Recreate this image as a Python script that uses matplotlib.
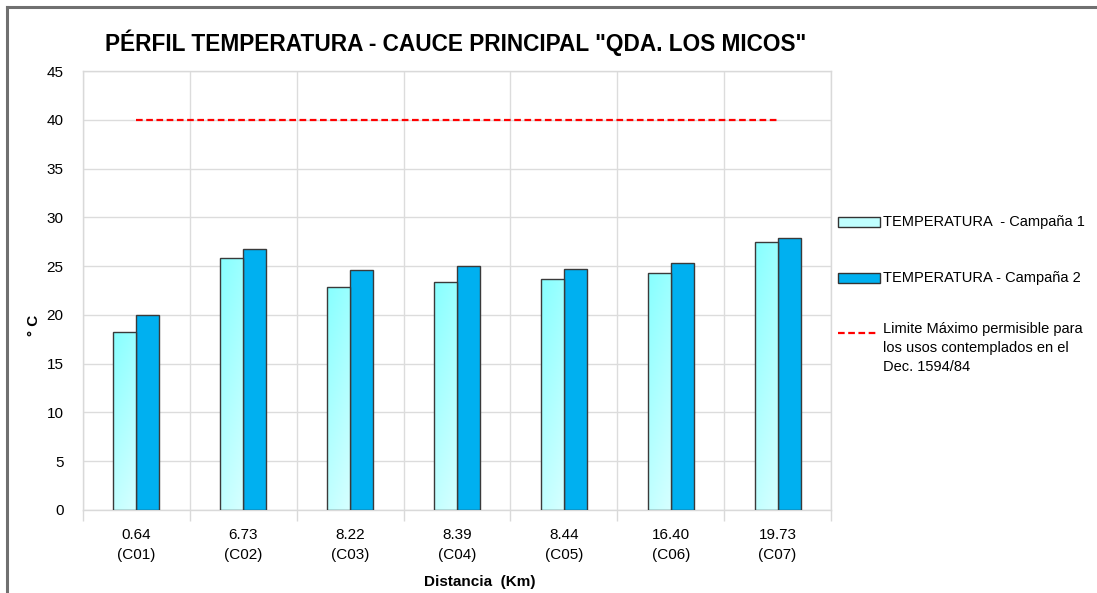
import numpy as np
import matplotlib
matplotlib.use("Agg")
import matplotlib.pyplot as plt
from matplotlib.patches import Rectangle
from matplotlib.lines import Line2D

plt.rcParams['font.family'] = ['Liberation Sans', 'DejaVu Sans']

# data
distancias = ["0.64", "6.73", "8.22", "8.39", "8.44", "16.40", "19.73"]
estaciones = ["C01", "C02", "C03", "C04", "C05", "C06", "C07"]
campana1 = [18.3, 25.8, 22.9, 23.4, 23.7, 24.3, 27.5]
campana2 = [20.0, 26.8, 24.6, 25.0, 24.7, 25.3, 27.9]
limite = 40

fig = plt.figure(figsize=(10.97, 5.93), dpi=100)
ax = fig.add_axes([0.0757, 0.140, 0.6818, 0.740])

x = np.arange(len(estaciones))
w = 0.215
edge = '#3a3a3a'

bars1 = ax.bar(x - w / 2, campana1, w, color='#b0ffff', edgecolor=edge, linewidth=1, zorder=3)
bars2 = ax.bar(x + w / 2, campana2, w, color='#00b0f0', edgecolor=edge, linewidth=1, zorder=3)

# diagonal light-cyan gradient on campaign 1 bars
gy, gx = np.mgrid[0:1:100j, 0:1:20j]
t = np.clip(0.75 * gy + 0.25 * gx, 0, 1)
c_top = np.array([0.53, 1.0, 1.0])
c_bot = np.array([0.84, 1.0, 1.0])
grad = c_top[None, None, :] * (1 - t[..., None]) + c_bot[None, None, :] * t[..., None]
grad = grad[::-1]
for b in bars1:
    x0, y0 = b.get_x(), b.get_y()
    im = ax.imshow(grad, extent=[x0, x0 + b.get_width(), y0, y0 + b.get_height()],
                   aspect='auto', zorder=3.5, origin='lower')
    im.set_clip_path(b)
    b.set_facecolor('none')
    b.set_zorder(4)

ax.plot([x[0], x[-1]], [limite, limite], color='#ff0000', linestyle=(0, (3, 1.6)),
        linewidth=1.6, zorder=4)

ax.set_xlim(-0.5, len(x) - 0.5)
ax.set_ylim(0, 45)
ax.set_yticks(np.arange(0, 46, 5))
ax.set_xticks(x)
ax.set_xticklabels([f"{d}\n({e})" for d, e in zip(distancias, estaciones)],
                   fontsize=11, linespacing=1.5)
ax.set_xticks(np.arange(-0.5, len(x), 1), minor=True)
ax.tick_params(axis='x', which='major', length=0, pad=13)
ax.tick_params(axis='x', which='minor', length=8, color='#d9d9d9', width=1)
ax.tick_params(axis='y', length=0, pad=14, labelsize=11)

ax.grid(True, axis='y', color='#dcdcdc', linewidth=1, zorder=0)
ax.grid(True, axis='x', which='minor', color='#dcdcdc', linewidth=1, zorder=0)
for s in ax.spines.values():
    s.set_color('#d9d9d9')
    s.set_linewidth(1)

ax.set_xlabel("Distancia  (Km)", fontsize=11, fontweight='bold')
ax.xaxis.set_label_coords(0.531, -0.148)
ax.set_ylabel("° C", fontsize=11, fontweight='bold')
ax.yaxis.set_label_coords(-0.056, 0.42)

fig.text(0.415, 0.928, 'PÉRFIL TEMPERATURA - CAUCE PRINCIPAL "QDA. LOS MICOS"',
         ha='center', va='center', fontsize=16.3, fontweight='bold')

# legend drawn manually in figure pixels
W, H = 1097, 593
def fx(px):
    return px / W
def fy(py):
    return 1 - py / H

fig.patches.append(Rectangle((fx(838), fy(227)), 42 / W, 10 / H, transform=fig.transFigure,
                             facecolor='#c0ffff', edgecolor='#333333', linewidth=1))
fig.patches.append(Rectangle((fx(838), fy(283)), 42 / W, 10 / H, transform=fig.transFigure,
                             facecolor='#00b0f0', edgecolor='#333333', linewidth=1))
fig.lines.append(Line2D([fx(838), fx(878)], [fy(333), fy(333)], transform=fig.transFigure,
                        color='#ff0000', linestyle=(0, (3, 1.6)), linewidth=1.6))
fig.text(fx(883), fy(222), "TEMPERATURA  - Campaña 1", fontsize=10.5, va='center')
fig.text(fx(883), fy(278), "TEMPERATURA - Campaña 2", fontsize=10.5, va='center')
fig.text(fx(883), fy(322), "Limite Máximo permisible para\nlos usos contemplados en el\nDec. 1594/84",
         fontsize=10.5, va='top', linespacing=1.45)

# outer border (top and left)
fig.lines.append(Line2D([fx(7), fx(1097)], [fy(7), fy(7)], transform=fig.transFigure,
                        color='#707070', linewidth=2.2))
fig.lines.append(Line2D([fx(7), fx(7)], [fy(7), fy(593)], transform=fig.transFigure,
                        color='#707070', linewidth=2.2))

fig.savefig("out.png", dpi=100)
